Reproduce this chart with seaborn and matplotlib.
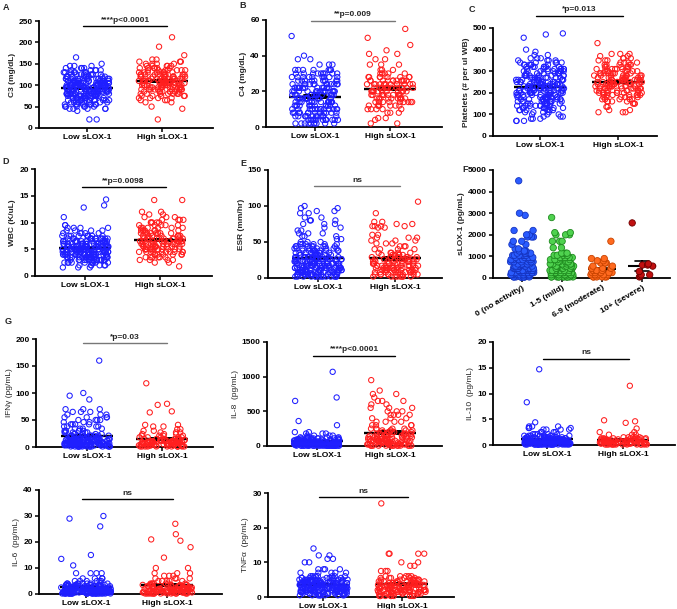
import numpy as np
import pandas as pd
import seaborn as sns
import matplotlib.pyplot as plt

sns.set_theme(style="ticks")
plt.rcParams['font.family'] = ['Liberation Sans', 'DejaVu Sans']
np.random.seed(3)  # only for the strip jitter

groups = ["Low sLOX-1", "High sLOX-1"]
activity = ["0 (no activity)", "1-5 (mild)", "6-9 (moderate)", "10+ (severe)"]

# each row of dots: value and how many dots sit there
c3_low_y = [20, 40, 45, 50, 55, 60, 65, 70, 75, 80, 85, 90, 95, 100, 105, 110, 115, 120, 125, 130, 135, 140, 145, 150, 165]
c3_low_n = [2, 1, 5, 6, 8, 8, 10, 12, 14, 15, 16, 18, 18, 17, 16, 15, 13, 11, 9, 7, 5, 4, 3, 1, 1]
c3_high_y = [20, 45, 50, 60, 65, 70, 75, 80, 85, 90, 95, 100, 105, 110, 115, 120, 125, 130, 135, 140, 145, 150, 155, 160, 170, 190, 212]
c3_high_n = [1, 1, 1, 2, 3, 4, 5, 7, 8, 9, 10, 11, 12, 12, 11, 10, 9, 8, 7, 6, 5, 4, 3, 2, 1, 1, 1]

c4_low_y = [2, 4, 6, 8, 10, 12, 14, 16, 18, 20, 22, 24, 26, 28, 30, 32, 35, 38, 40, 51]
c4_low_n = [10, 12, 12, 12, 13, 13, 13, 14, 14, 14, 13, 12, 10, 9, 9, 7, 3, 2, 1, 1]
c4_high_y = [2, 4, 5, 8, 10, 12, 14, 16, 18, 20, 22, 24, 26, 28, 30, 32, 35, 38, 41, 43, 46, 50, 55]
c4_high_n = [2, 1, 2, 3, 5, 7, 9, 10, 11, 12, 12, 12, 11, 8, 5, 3, 3, 2, 2, 1, 1, 1, 1]

plt_low_y = [70, 80, 90, 100, 110, 120, 130, 140, 150, 160, 170, 180, 190, 200, 210, 220, 230, 240, 250, 260, 270, 280,
             290, 300, 310, 320, 330, 340, 350, 360, 375, 390, 400, 455, 470, 475]
plt_low_n = [3, 3, 3, 3, 4, 6, 7, 8, 8, 9, 9, 10, 10, 11, 11, 11, 11, 11, 10, 10, 9, 9, 8, 8, 8, 7, 6, 5, 4, 3, 2, 1, 1, 1, 1, 1]
plt_high_y = [110, 120, 135, 150, 160, 170, 180, 190, 200, 210, 220, 230, 240, 250, 260, 270, 280, 290, 300, 310, 320,
              330, 340, 350, 360, 370, 380, 430]
plt_high_n = [3, 2, 2, 3, 4, 5, 6, 7, 8, 9, 9, 10, 10, 10, 9, 9, 8, 8, 7, 6, 5, 5, 4, 3, 3, 2, 3, 1]

wbc_low_y = [1.6, 2, 2.5, 3, 3.5, 4, 4.5, 5, 5.5, 6, 6.5, 7, 7.5, 8, 8.5, 9, 9.5, 11, 12.8, 13.2, 14.3]
wbc_low_n = [3, 6, 10, 14, 18, 20, 22, 22, 20, 18, 15, 12, 9, 5, 4, 4, 2, 1, 1, 1, 1]
wbc_high_y = [1.8, 2.5, 3, 3.5, 4, 4.5, 5, 5.5, 6, 6.5, 7, 7.5, 8, 8.5, 9, 9.5, 10, 10.5, 11, 11.5, 12, 14.2]
wbc_high_n = [1, 2, 4, 6, 8, 10, 12, 12, 12, 11, 10, 9, 8, 7, 6, 5, 5, 4, 3, 2, 2, 2]

esr_low_y = [2, 5, 8, 11, 14, 17, 20, 23, 26, 29, 32, 35, 38, 41, 44, 47, 50, 54, 58, 62, 66, 70, 75, 80, 84, 90, 93, 97, 100]
esr_low_n = [14, 15, 15, 15, 15, 14, 14, 13, 12, 11, 10, 9, 9, 8, 8, 6, 3, 2, 3, 3, 2, 2, 3, 3, 2, 2, 2, 2, 1]
esr_high_y = [2, 5, 8, 11, 14, 17, 20, 23, 26, 29, 32, 35, 40, 44, 48, 52, 56, 60, 70, 72, 75, 78, 90, 106]
esr_high_n = [8, 9, 9, 10, 10, 10, 9, 9, 8, 7, 6, 5, 4, 3, 3, 3, 3, 2, 2, 4, 2, 2, 1, 1]

slox_none_y = [50, 150, 250, 350, 450, 550, 650, 750, 850, 950, 1050, 1150, 1250, 1350, 1550, 1700, 1900, 2000, 2200, 2900, 3000, 4500]
slox_none_n = [12, 14, 12, 10, 9, 8, 8, 7, 7, 6, 6, 5, 5, 2, 2, 2, 3, 2, 2, 1, 1, 1]
slox_mild_y = [50, 150, 250, 350, 450, 550, 650, 750, 850, 950, 1050, 1150, 1400, 1700, 2000, 2100, 2800]
slox_mild_n = [12, 13, 11, 9, 8, 7, 6, 5, 5, 5, 4, 4, 2, 3, 3, 2, 1]
slox_mod_y = [50, 150, 250, 350, 450, 550, 700, 800, 900, 1700]
slox_mod_n = [6, 6, 5, 4, 3, 2, 3, 2, 2, 1]
slox_sev_y = [50, 100, 150, 300, 550, 600, 650, 2550]
slox_sev_n = [1, 1, 2, 1, 1, 2, 1, 1]

ifng_low_y = [1, 3, 5, 7, 9, 11, 13, 15, 18, 21, 24, 27, 30, 34, 38, 42, 46, 50, 55, 60, 65, 70, 88, 95, 100, 160]
ifng_low_n = [15, 16, 16, 15, 14, 13, 12, 10, 8, 7, 6, 5, 5, 4, 4, 4, 3, 4, 4, 3, 3, 3, 1, 1, 1, 1]
ifng_high_y = [1, 3, 5, 7, 9, 11, 13, 15, 18, 21, 24, 27, 30, 33, 38, 41, 64, 66, 78, 80, 118]
ifng_high_n = [12, 12, 11, 10, 9, 8, 7, 6, 5, 4, 3, 3, 2, 2, 2, 2, 1, 1, 1, 1, 1]

il8_low_y = [5, 20, 35, 50, 65, 80, 95, 110, 125, 150, 180, 200, 300, 360, 650, 700, 1070]
il8_low_n = [30, 28, 25, 20, 15, 12, 10, 8, 6, 4, 3, 2, 1, 1, 1, 1, 1]
il8_high_y = [5, 25, 50, 75, 100, 125, 150, 175, 200, 225, 250, 300, 350, 400, 450, 500, 550, 600, 650, 700, 750, 800, 950]
il8_high_n = [14, 14, 13, 12, 10, 9, 8, 7, 6, 5, 5, 4, 4, 3, 4, 3, 3, 2, 3, 1, 2, 1, 1]

il10_low_y = [0.1, 0.3, 0.5, 0.7, 0.9, 1.1, 1.3, 1.5, 1.8, 2.1, 2.5, 3.0, 3.3, 3.6, 4.4, 8.3, 14.7]
il10_low_n = [25, 25, 22, 20, 18, 15, 12, 10, 7, 5, 4, 4, 3, 3, 1, 1, 1]
il10_high_y = [0.1, 0.3, 0.5, 0.7, 0.9, 1.1, 1.3, 1.5, 2.0, 2.5, 3.2, 4.3, 4.6, 4.8, 11.5]
il10_high_n = [14, 14, 13, 12, 10, 9, 7, 5, 3, 2, 1, 1, 1, 1, 1]

il6_low_y = [0.2, 0.6, 1, 1.5, 2, 2.5, 3, 3.5, 4, 5, 6, 8, 11, 13.5, 15, 26, 29, 30]
il6_low_n = [25, 25, 22, 20, 18, 16, 13, 10, 8, 6, 4, 4, 1, 1, 1, 1, 1, 1]
il6_high_y = [0.2, 0.6, 1, 1.5, 2, 2.5, 3, 3.5, 4, 5, 6, 7, 8, 10, 14, 18, 20.5, 21, 23, 27]
il6_high_n = [14, 14, 13, 12, 11, 9, 8, 7, 6, 5, 4, 3, 3, 2, 1, 1, 1, 1, 1, 1]

tnf_low_y = [0.5, 1, 1.5, 2, 2.5, 3, 3.5, 4, 4.5, 5, 5.5, 6, 7, 8, 10, 11, 12, 14]
tnf_low_n = [10, 14, 16, 18, 18, 18, 17, 16, 14, 12, 9, 7, 5, 4, 2, 2, 2, 1]
tnf_high_y = [0.3, 1, 1.5, 2, 2.5, 3, 3.5, 4, 4.5, 5, 5.5, 6, 7.5, 9, 10, 12.5, 27]
tnf_high_n = [10, 12, 13, 13, 12, 12, 11, 10, 9, 8, 6, 5, 3, 2, 2, 4, 1]

BLUE, RED = "#1f1fff", "#ff1f1f"
F_FILL = ["#2a5cff", "#4fd24f", "#ff6a1f", "#c01010"]
F_EDGE = ["#1533c0", "#1f8a1f", "#c84300", "#700000"]

W, H = 677, 609
fig = plt.figure(figsize=(W / 100, H / 100), dpi=100)


def make_ax(l, r, t, b):
    return fig.add_axes([l / W, 1 - b / H, (r - l) / W, (b - t) / H])


def style_ax(ax, ylim, yticks, ylabel, xlim, bold_label=True):
    ax.set_ylim(*ylim)
    ax.set_xlim(*xlim)
    ax.set_yticks(yticks)
    ax.set_yticklabels([str(t) for t in yticks], fontweight="bold", fontsize=6)
    ax.set_xlabel("")
    ax.set_ylabel(ylabel, fontsize=6, fontweight="bold" if bold_label else "normal", labelpad=2)
    sns.despine(ax=ax)
    for s in ["left", "bottom"]:
        ax.spines[s].set_linewidth(1.3)
        ax.spines[s].set_color("black")
    ax.tick_params(axis="both", length=3, width=1.1, pad=1.5, colors="black")


def sig(ax, text, yf, color, x0=-0.05, x1=1.07):
    tr = ax.get_xaxis_transform()
    ax.plot([x0, x1], [yf, yf], transform=tr, color=color, lw=1.0, clip_on=False)
    ax.text((x0 + x1) / 2, yf + 0.025, text, transform=tr, ha="center", va="bottom",
            fontsize=6, fontweight="bold")


def two_group(box, low_y, low_n, high_y, high_n, ylim, yticks, ylabel, xlim, sig_text, sig_y,
              sig_color="black", bold_label=True):
    ax = make_ax(*box)
    low = np.repeat(low_y, low_n)
    high = np.repeat(high_y, high_n)
    df = pd.DataFrame({"group": np.repeat(groups, [len(low), len(high)]),
                       "value": np.concatenate([low, high])})
    n0 = len(ax.collections)
    sns.stripplot(data=df, x="group", y="value", hue="group", order=groups, hue_order=groups,
                  palette=[BLUE, RED], jitter=0.31, size=3.8, linewidth=0.75, legend=False, ax=ax)
    for c in ax.collections[n0:]:
        fc = c.get_facecolor()
        c.set_edgecolor(fc)
        c.set_facecolor("none")
        c.set_clip_on(False)
    sns.pointplot(data=df, x="group", y="value", order=groups, errorbar="se", color="black",
                  marker="_", markersize=37, markeredgewidth=1.7, linestyle="none",
                  capsize=0.3, err_kws={"linewidth": 1.4}, ax=ax)
    style_ax(ax, ylim, yticks, ylabel, xlim, bold_label)
    ax.set_xticks([0, 1])
    ax.set_xticklabels(groups, fontweight="bold", fontsize=6)
    sig(ax, sig_text, sig_y, sig_color)
    return ax


# row 1
two_group((39, 213, 21, 128), c3_low_y, c3_low_n, c3_high_y, c3_high_n, (0, 250), [0, 50, 100, 150, 200, 250],
          "C3 (mg/dL)", (-0.64, 1.68), "****p<0.0001", 0.95)
two_group((266, 442, 20, 127), c4_low_y, c4_low_n, c4_high_y, c4_high_n, (0, 60), [0, 20, 40, 60],
          "C4 (mg/dL)", (-0.65, 1.69), "**p=0.009", 0.99, sig_color="#777777")
two_group((493, 657, 28, 136), plt_low_y, plt_low_n, plt_high_y, plt_high_n, (0, 500), [0, 100, 200, 300, 400, 500],
          "Platelets (# per ul WB)", (-0.60, 1.50), "*p=0.013", 1.11)

# row 2
two_group((35, 212, 169, 276), wbc_low_y, wbc_low_n, wbc_high_y, wbc_high_n, (0, 20), [0, 5, 10, 15, 20],
          "WBC (K/uL)", (-0.67, 1.69), "**p=0.0098", 0.83)
two_group((268, 442, 170, 278), esr_low_y, esr_low_n, esr_high_y, esr_high_n, (0, 150), [0, 50, 100, 150],
          "ESR (mm/hr)", (-0.65, 1.61), "ns", 0.85, sig_color="#777777")

# panel F: sLOX-1 by disease activity
axf = make_ax(493, 670, 170, 278)
f_vals = [np.repeat(slox_none_y, slox_none_n), np.repeat(slox_mild_y, slox_mild_n),
          np.repeat(slox_mod_y, slox_mod_n), np.repeat(slox_sev_y, slox_sev_n)]
dff = pd.DataFrame({"activity": np.repeat(activity, [len(v) for v in f_vals]),
                    "value": np.concatenate(f_vals)})
n0 = len(axf.collections)
sns.stripplot(data=dff, x="activity", y="value", hue="activity", order=activity, hue_order=activity,
              palette=F_FILL, jitter=0.3, size=4.6, linewidth=0.6, legend=False, ax=axf)
for c, ec in zip(axf.collections[n0:], F_EDGE):
    c.set_edgecolor(ec)
    c.set_clip_on(False)
sns.pointplot(data=dff, x="activity", y="value", order=activity, errorbar="se", color="black",
              marker="_", markersize=20, markeredgewidth=1.5, linestyle="none",
              capsize=0.35, err_kws={"linewidth": 1.2}, ax=axf)
style_ax(axf, (0, 5000), [0, 1000, 2000, 3000, 4000, 5000], "sLOX-1 (pg/mL)", (-0.72, 3.7))
axf.set_xticks(range(4))
axf.set_xticklabels(activity, fontweight="bold", fontsize=6, rotation=30, ha="right", rotation_mode="anchor")

# rows 3-4: cytokines
two_group((36, 213, 339, 447), ifng_low_y, ifng_low_n, ifng_high_y, ifng_high_n, (0, 200), [0, 50, 100, 150, 200],
          "IFNγ (pg/mL)", (-0.68, 1.68), "*p=0.03", 0.96, sig_color="#777777", bold_label=False)
two_group((267, 442, 342, 446), il8_low_y, il8_low_n, il8_high_y, il8_high_n, (0, 1500), [0, 500, 1000, 1500],
          "IL-8  (pg/mL)", (-0.68, 1.71), "****p<0.0001", 0.865, bold_label=False)
two_group((493, 675, 342, 445), il10_low_y, il10_low_n, il10_high_y, il10_high_n, (0, 20), [0, 5, 10, 15, 20],
          "IL-10  (pg/mL)", (-0.71, 1.68), "ns", 0.835, bold_label=False)
two_group((39, 222, 490, 594), il6_low_y, il6_low_n, il6_high_y, il6_high_n, (0, 40), [0, 10, 20, 30, 40],
          "IL-6  (pg/mL)", (-0.58, 1.68), "ns", 0.91, bold_label=False)
two_group((268, 454, 493, 597), tnf_low_y, tnf_low_n, tnf_high_y, tnf_high_n, (0, 30), [0, 10, 20, 30],
          "TNFα  (pg/mL)", (-0.70, 1.66), "ns", 0.96, bold_label=False)

# panel letters
for letter, (px, py) in {"A": (6, 7), "B": (243, 6), "C": (472, 9), "D": (6, 162),
                         "E": (243, 164), "F": (465, 170), "G": (8, 322)}.items():
    fig.text(px / W, 1 - py / H, letter, fontsize=6.5, fontweight="bold", va="center", ha="center")

fig.savefig("out.png", dpi=100)
